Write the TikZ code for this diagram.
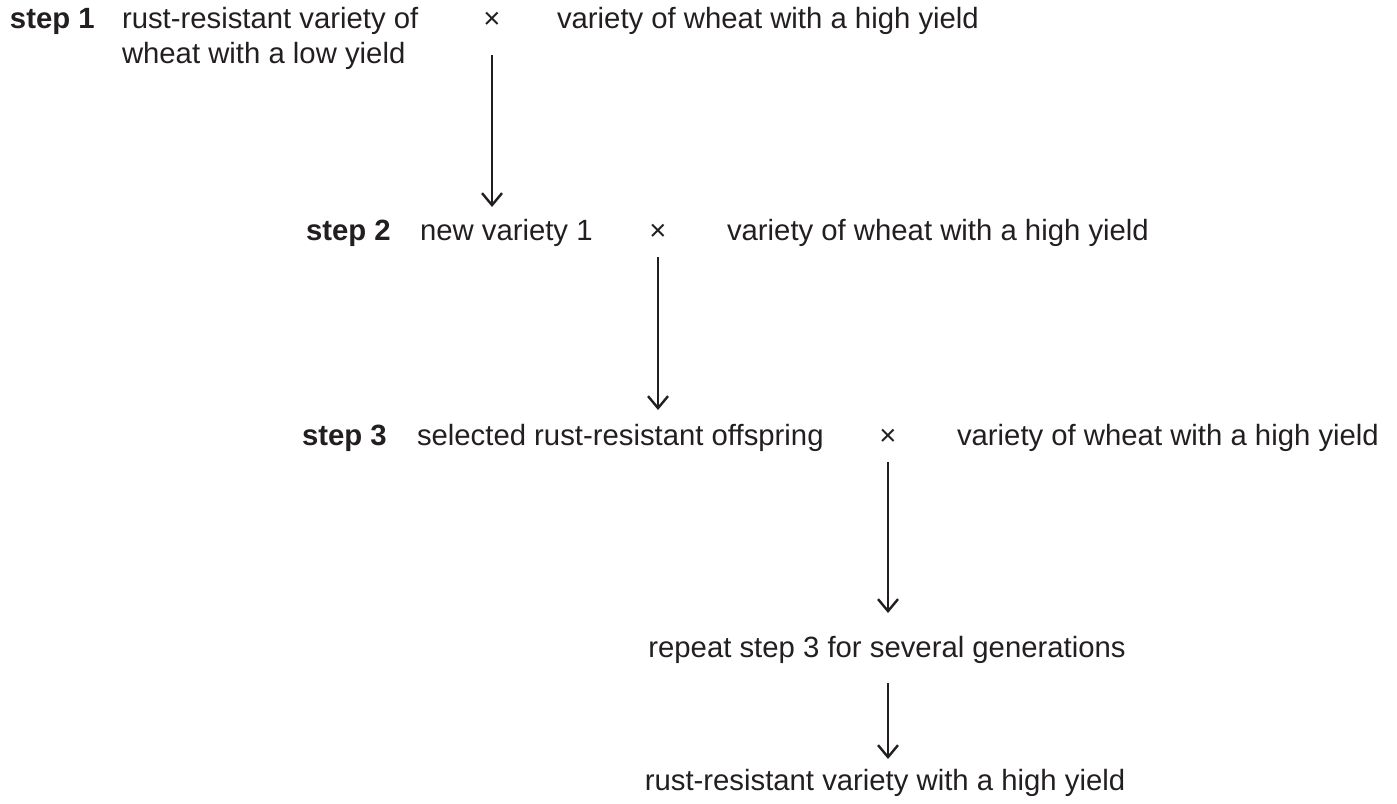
\documentclass[tikz,border=0pt]{standalone}
\usepackage{fontspec}
\setmainfont{Liberation Sans}
\usetikzlibrary{positioning, arrows.meta}
\definecolor{ink}{HTML}{231F20}

\begin{document}
\begin{tikzpicture}[
        x=0.5pt, y=-0.5pt,
        every node/.style={
          inner sep=0pt,
          outer sep=0pt,
          text=ink,
          font=\fontsize{14.65pt}{17.6pt}\selectfont,
          text height=10.5pt,
          text depth=3.1pt
        },
        stagename/.style={
          anchor=base west,
          font=\fontsize{14.65pt}{17.6pt}\selectfont\bfseries
        },
        plain/.style={
          anchor=base west
        },
        centred/.style={
          anchor=base
        },
        arrow/.style={
          -{Straight Barb[length=6pt, width=10pt]},
          draw=ink,
          line width=1.2pt
        }
      ]
      \useasboundingbox (0,0) rectangle (1397,803);

      % Nodes
      \node [stagename] (s1) at (10,28) {step 1};
      \node [plain] (rr1) at (122,28) {rust-resistant variety of};
      \node [plain] (low1) at (122,63) {wheat with a low yield};
      \node [centred] (x1) at (492,28) {×};
      \node [plain] (hy1) at (557,28) {variety of wheat with a high yield};

      \node [stagename] (s2) at (306,240) {step 2};
      \node [plain] (nv2) at (420,240) {new variety 1};
      \node [centred] (x2) at (658,240) {×};
      \node [plain] (hy2) at (727,240) {variety of wheat with a high yield};

      \node [stagename] (s3) at (302,445) {step 3};
      \node [plain] (sel3) at (417,445) {selected rust-resistant offspring};
      \node [centred] (x3) at (888,445) {×};
      \node [plain] (hy3) at (957,445) {variety of wheat with a high yield};

      \node [centred] (rep) at (887,657) {repeat step 3 for several generations};
      \node [centred] (fin) at (885,790) {rust-resistant variety with a high yield};

      % Sequential Arrows
      \draw [arrow, shorten <=10.5pt, shorten >=6pt] (x1.south) -- (x1.south |- nv2.north);
      \draw [arrow, shorten <=5.5pt, shorten >=7pt] (x2.south) -- (x2.south |- sel3.north);
      \draw [arrow, shorten <=5.5pt, shorten >=11.5pt] (x3.south) -- (x3.south |- rep.north);
      \draw [arrow, shorten <=10pt, shorten >=5pt] (rep.south -| x3.south) -- (x3.south |- fin.north);

    \end{tikzpicture}
\end{document}
